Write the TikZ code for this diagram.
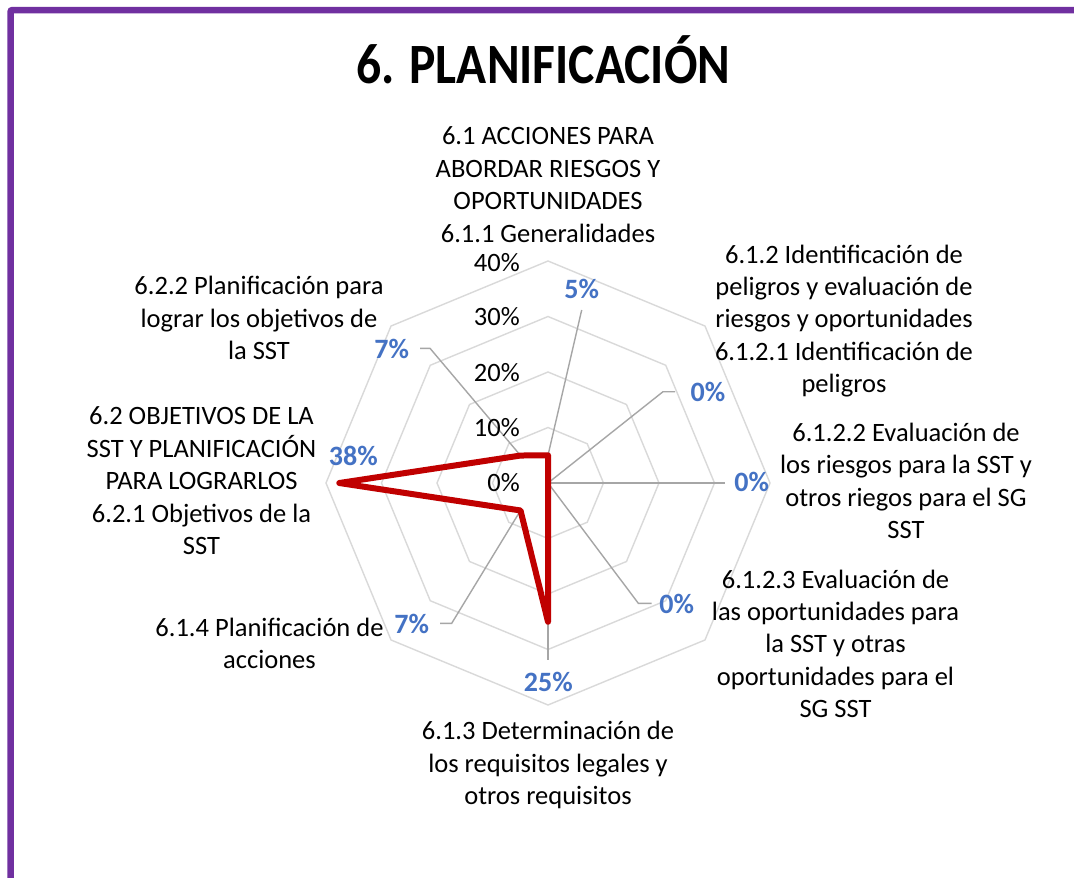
\documentclass[tikz,border=0pt]{standalone}
\usepackage{fontspec}
\setmainfont{Carlito}
\newfontfamily\titlefont[FakeStretch=0.87]{Carlito}
\definecolor{purp}{HTML}{7030A0}
\definecolor{gridc}{HTML}{D9D9D9}
\definecolor{leadc}{HTML}{A6A6A6}
\definecolor{redc}{HTML}{C00000}
\definecolor{bluec}{HTML}{4472C4}
\newcommand\catfont{\fontsize{26.5}{32.4}\selectfont}
\tikzset{
  border/.style={draw=purp, line width=6.5pt, rounded corners=2pt},
  gridline/.style={draw=gridc, line width=1.4pt},
  leader/.style={draw=leadc, line width=1.4pt},
  series/.style={draw=redc, line width=6pt, line join=round},
  catlab/.style={font=\catfont, align=center, anchor=north, inner sep=0pt, text=black},
  ticklab/.style={font=\catfont, anchor=base east, inner sep=0pt, text=black},
  dlab/.style={font=\bfseries\fontsize{28}{30}\selectfont, text=bluec, anchor=base, inner sep=0pt},
  titlelab/.style={font=\titlefont\bfseries\fontsize{57}{60}\selectfont, anchor=base, inner sep=0pt}
}
\begin{document}
\begin{tikzpicture}[x=1pt,y=-1pt]
\useasboundingbox (0,0) rectangle (1074,878);
\fill[white] (0,0) rectangle (1074,878);
\draw[border] (10.5,878) -- (10.5,10) -- (1074,10);

\node[titlelab] (title) at (543.3,83.3) {6. PLANIFICACIÓN};

\begin{scope}[shift={(548,483)}]
  \foreach \i in {1,...,4}{
    \pgfmathsetmacro\r{55.5*\i}
    \draw[gridline] (-90:\r) -- (-45:\r) -- (0:\r) -- (45:\r) -- (90:\r) -- (135:\r) -- (180:\r) -- (225:\r) -- cycle;
  }
  \coordinate (p0) at (-90:27.75);
  \coordinate (p1) at (0,0);
  \coordinate (p2) at (0,0);
  \coordinate (p3) at (0,0);
  \coordinate (p4) at (90:138.75);
  \coordinate (p5) at (135:38.85);
  \coordinate (p6) at (180:208.7);
  \coordinate (p7) at (225:38.85);
\end{scope}

% leader end points
\coordinate (e0) at (581.7,310);
\coordinate (e1a) at (663,391.7);
\coordinate (e1b) at (675,391.7);
\coordinate (e2) at (725,483);
\coordinate (e3a) at (638.3,603.3);
\coordinate (e3b) at (651.7,603.3);
\coordinate (e4) at (548,660);
\coordinate (e5a) at (451.7,623.3);
\coordinate (e5b) at (440,623.3);
\coordinate (e7a) at (430,348.3);
\coordinate (e7b) at (420,348.3);

\draw[leader] (p0) -- (e0);
\draw[leader] (p1) -- (e1a) -- (e1b);
\draw[leader] (p2) -- (e2);
\draw[leader] (p3) -- (e3a) -- (e3b);
\draw[leader] (p4) -- (e4);
\draw[leader] (p5) -- (e5a) -- (e5b);
\draw[leader] (p7) -- (e7a) -- (e7b);

\draw[series] (p0) -- (p1) -- (p2) -- (p3) -- (p4) -- (p5) -- (p6) -- (p7) -- cycle;

% tick labels
\node[ticklab] (t40) at (520,271.1) {40\%};
\node[ticklab] (t30) at (520,325.7) {30\%};
\node[ticklab] (t20) at (520,381.7) {20\%};
\node[ticklab] (t10) at (520,436.7) {10\%};
\node[ticklab] (t0) at (520,491.7) {0\%};

% data labels
\node[dlab] (d0) at (581.7,298.5) {5\%};
\node[dlab] (d1) at (708,401.5) {0\%};
\node[dlab] (d2) at (751.7,491.8) {0\%};
\node[dlab] (d3) at (676.7,613.5) {0\%};
\node[dlab] (d4) at (548.3,691.5) {25\%};
\node[dlab] (d5) at (411.7,633.5) {7\%};
\node[dlab] (d6) at (353.3,465.2) {38\%};
\node[dlab] (d7) at (391.7,358.5) {7\%};

% category labels
\node[catlab] (c0) at (548,122) {\strut 6.1 ACCIONES PARA\\ABORDAR RIESGOS Y\\OPORTUNIDADES\\6.1.1 Generalidades};
\node[catlab] (c1) at (844,240.3) {\strut 6.1.2 Identificación de\\peligros y evaluación de\\riesgos y oportunidades\\6.1.2.1 Identificación de\\peligros};
\node[catlab] (c2) at (906,418.6) {\strut 6.1.2.2 Evaluación de\\los riesgos para la SST y\\otros riegos para el SG\\SST};
\node[catlab] (c3) at (835.5,565.3) {\strut 6.1.2.3 Evaluación de\\las oportunidades para\\la SST y otras\\oportunidades para el\\SG SST};
\node[catlab] (c4) at (548,717) {\strut 6.1.3 Determinación de\\los requisitos legales y\\otros requisitos};
\node[catlab] (c5) at (269.5,613.6) {\strut 6.1.4 Planificación de\\acciones};
\node[catlab] (c6) at (201.5,402) {\strut 6.2 OBJETIVOS DE LA\\SST Y PLANIFICACIÓN\\PARA LOGRARLOS\\6.2.1 Objetivos de la\\SST};
\node[catlab] (c7) at (259,272) {\strut 6.2.2 Planificación para\\lograr los objetivos de\\la SST};
\end{tikzpicture}
\end{document}
